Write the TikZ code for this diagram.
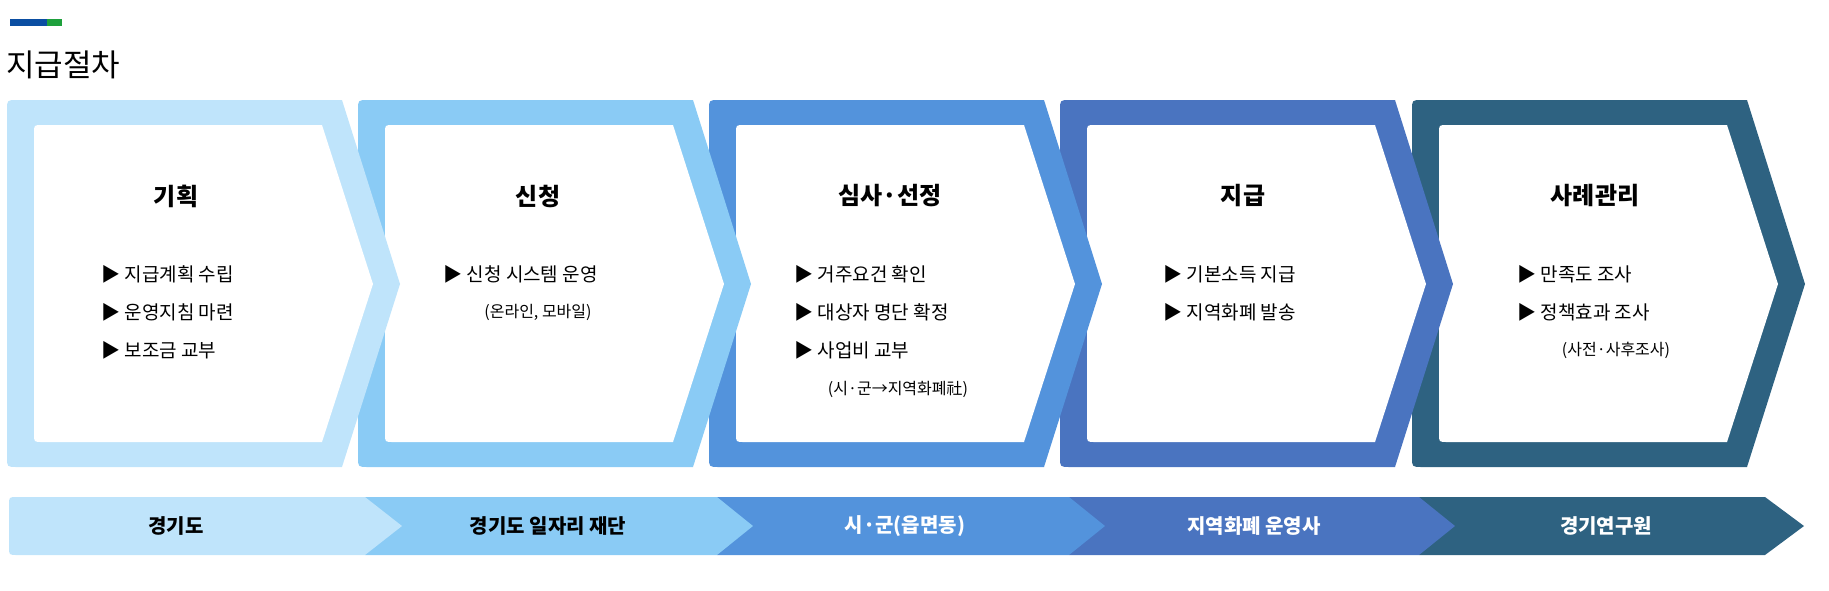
\documentclass[tikz,border=0pt]{standalone}
\usepackage{fontspec}
\setmainfont{Noto Sans CJK KR}
\definecolor{cA}{HTML}{BFE4FB}
\definecolor{cB}{HTML}{8ACBF5}
\definecolor{cC}{HTML}{5393DC}
\definecolor{cD}{HTML}{4A74C0}
\definecolor{cE}{HTML}{2E6281}
\definecolor{hblue}{HTML}{0B4EA2}
\definecolor{hgreen}{HTML}{1EA03C}
\newcommand\chevshape[2]{%
 \fill[#2] (#1+335,100) -- (#1+393,284) -- (#1+335,467) -- (#1+10,467) .. controls (#1,467) .. (#1,457) -- (#1,110) .. controls (#1,100) .. (#1+10,100) -- cycle;
 \fill[white] (#1+315,125) -- (#1+366,284) -- (#1+315,442) -- (#1+35,442) .. controls (#1+27,442) .. (#1+27,434) -- (#1+27,133) .. controls (#1+27,125) .. (#1+35,125) -- cycle;}
\newcommand\barseg[4]{%
 \fill[#4] (#1,497) -- (#2,497) -- (#2+#3,526) -- (#2,555) -- (#1,555) -- cycle;}
\tikzset{ttl/.style={font=\bfseries\fontsize{24}{28}\selectfont},
 item/.style={anchor=west,font=\fontsize{19}{23}\selectfont},
 par/.style={font=\fontsize{16}{20}\selectfont},
 bartxt/.style={font=\bfseries\fontsize{20}{24}\selectfont}}
\begin{document}
\begin{tikzpicture}[x=1pt,y=-1pt]
\useasboundingbox (0,0) rectangle (1829,590);
\fill[hblue] (10,19) rectangle (47,26);
\fill[hgreen] (47,19) rectangle (62,26);
\node[anchor=west,inner sep=0,font=\fontsize{31}{36}\selectfont] (title) at (6,65) {지급절차};
% chevrons (right to left so left tips overlap)
\chevshape{1412}{cE}
\chevshape{1060}{cD}
\chevshape{709}{cC}
\chevshape{358}{cB}
\chevshape{7}{cA}
% bottom bar
\barseg{1419}{1765}{39}{cE}
\barseg{1069}{1419}{36}{cD}
\barseg{717}{1069}{36}{cC}
\barseg{365}{717}{36}{cB}
\fill[cA] (365,497) -- (365+37,526) -- (365,555) -- (17,555) .. controls (9,555) .. (9,547) -- (9,505) .. controls (9,497) .. (17,497) -- cycle;
% titles
\node[ttl] (t1) at (176,196) {기획};
\node[ttl] (t2) at (538,196) {신청};
\node[ttl] (t3) at (890,196) {심사·선정};
\node[ttl] (t4) at (1243,196) {지급};
\node[ttl] (t5) at (1595,196) {사례관리};
% items
\node[item] (a1) at (98,274) {▶ 지급계획 수립};
\node[item] (a2) at (98,312) {▶ 운영지침 마련};
\node[item] (a3) at (98,350) {▶ 보조금 교부};
\node[item] (b1) at (440,274) {▶ 신청 시스템 운영};
\node[par] (b2) at (538,312) {(온라인, 모바일)};
\node[item] (c1) at (791,274) {▶ 거주요건 확인};
\node[item] (c2) at (791,312) {▶ 대상자 명단 확정};
\node[item] (c3) at (791,350) {▶ 사업비 교부};
\node[par] (c4) at (898,389) {(시·군→지역화폐社)};
\node[item] (d1) at (1160,274) {▶ 기본소득 지급};
\node[item] (d2) at (1160,312) {▶ 지역화폐 발송};
\node[item] (e1) at (1514,274) {▶ 만족도 조사};
\node[item] (e2) at (1514,312) {▶ 정책효과 조사};
\node[par] (e3) at (1616,350) {(사전·사후조사)};
% bar labels
\node[bartxt] (s1) at (176,526) {경기도};
\node[bartxt] (s2) at (548,526) {경기도 일자리 재단};
\node[bartxt,white] (s3) at (905,526) {시·군(읍면동)};
\node[bartxt,white] (s4) at (1254,526) {지역화폐 운영사};
\node[bartxt,white] (s5) at (1606,526) {경기연구원};
\end{tikzpicture}
\end{document}
